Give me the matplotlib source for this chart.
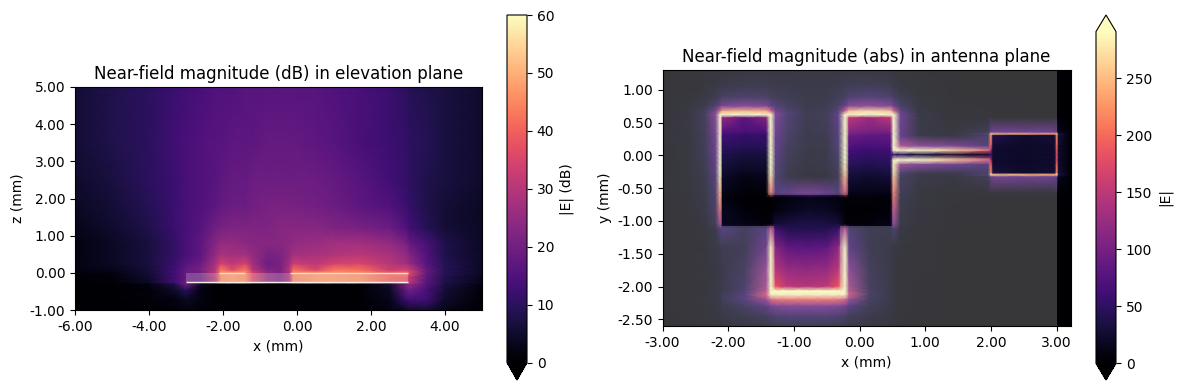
import matplotlib
matplotlib.use("Agg")
import matplotlib.pyplot as plt, numpy as np
from matplotlib.colors import Normalize
from matplotlib.patches import PathPatch, Rectangle
from matplotlib.path import Path

plt.rcParams["axes.unicode_minus"] = False

# elevation plane |E| in dB, rows bottom to top
xz_x = [-6, -5, -4, -3.3, -3, -2.6, -2.2, -2.05, -1.75, -1.4, -1.2, -0.8, -0.45, -0.2, -0.1, 0.5, 1, 1.7, 2.5, 2.95, 3.05, 3.5, 4, 5]
xz_z = [-1, -0.7, -0.45, -0.3, -0.26, -0.12, 0, 0.08, 0.25, 0.5, 0.8, 1.2, 1.8, 2.5, 3.5, 5]
xz_db = [
    [0,0,0,1,2,1,0,0,0,0,0,0,0,0,0,0,0,0,2,4,5,6,3,0],
    [0,0,1,2,4,2,0,0,0,0,0,0,0,0,0,0,0,0,3,12,14,13,5,0],
    [0,0,1,5,10,2,0,0,0,0,0,0,0,0,0,0,0,0,4,18,20,14,6,1],
    [0,0,2,8,20,4,0,0,0,0,0,0,0,0,0,0,0,0,5,22,25,16,7,2],
    [0,1,4,13,19,19,30,46,47,46,36,25,22,28,45,47,47,46,40,38,30,16,8,3],
    [0,1,5,13,18,18,30,46,47,46,36,25,22,28,45,47,47,46,40,38,30,17,8,3],
    [1,2,6,13,18,20,32,46,47,46,35,24,22,29,45,46,46,45,40,42,36,18,9,4],
    [2,3,6,13,18,21,30,44,36,43,30,22,21,30,42,35,43,42,33,34,32,18,9,4],
    [2,4,7,12,16,19,28,34,31,34,27,19,21,27,33,31,34,35,30,27,25,16,9,4],
    [2,4,7,11,14,17,25,28,27,27,25,21,22,25,27,28,29,30,28,25,22,15,8,4],
    [2,4,7,11,14,17,23,25,25,24,23,23,23,24,25,26,27,27,25,21,18,14,8,4],
    [3,5,8,12,14,16,20,21,22,22,22,22,23,23,23,23,22,21,19,15,13,9,6,4],
    [4,6,9,12,14,15,17,18,19,19,20,21,21,21,21,20,19,17,15,12,11,8,6,4],
    [5,7,10,12,14,15,16,17,18,18,19,19,19,19,19,19,18,16,13,11,10,8,7,5],
    [6,8,10,13,14,15,16,16,17,17,17,18,18,18,18,17,16,14,12,11,10,9,7,5],
    [6,8,10,12,13,14,15,15,15,16,16,16,16,16,16,16,15,14,12,10,9,8,7,5],
]
substrate_x = [-3, 3]
substrate_z = [-0.26, 0]
metal_top = [(-2.1, -1.4), (-0.2, 3)]

# antenna plane |E|, rows top to bottom
xy_x = [-3, -2.6, -2.35, -2.19, -2.12, -2.09, -1.75, -1.42, -1.35, -1.28, -1.1, -0.8, -0.5, -0.32, -0.22, -0.16, 0.15, 0.47, 0.52, 0.62, 0.9, 1.4, 1.96, 2, 2.03, 2.5, 2.97, 3, 3.03, 3.2]
xy_y = [1.3, 1.05, 0.88, 0.75, 0.67, 0.62, 0.57, 0.35, 0.32, 0.3, 0.14, 0.075, 0.01, -0.075, -0.14, -0.27, -0.3, -0.33, -0.57, -0.65, -0.85, -1.05, -1.12, -1.4, -1.75, -2.0, -2.07, -2.12, -2.2, -2.3, -2.45, -2.6]
xy_abs = [
    [2,3,4,5,6,6,8,9,9,10,10,10,10,10,10,10,9,7,5,5,3,2,2,2,2,2,2,2,1,0],
    [3,5,8,11,14,15,20,20,18,18,16,14,15,18,20,22,24,20,14,10,6,3,2,2,2,2,2,2,1,0],
    [4,6,12,20,28,32,38,36,30,26,22,16,16,24,30,42,48,40,30,20,8,3,3,3,3,3,2,2,1,0],
    [4,8,18,40,65,80,95,85,60,45,30,18,20,35,60,95,105,90,65,35,10,4,3,3,3,3,2,2,1,0],
    [5,10,28,80,180,230,240,230,170,70,40,20,22,50,160,250,270,250,170,55,12,5,4,3,3,3,2,2,1,0],
    [5,10,30,100,291,291,291,291,291,90,45,22,25,60,291,291,291,291,291,70,14,5,4,4,3,3,3,2,1,0],
    [5,10,28,90,291,120,80,110,291,80,42,20,24,60,291,150,125,150,291,70,14,5,4,4,3,3,3,2,1,0],
    [5,10,26,80,291,75,68,70,291,70,38,18,22,50,291,110,100,100,291,65,15,8,25,70,75,70,70,70,15,3],
    [5,10,26,78,291,68,60,60,291,68,36,18,20,50,291,100,92,92,291,62,16,9,50,270,250,240,230,270,40,5],
    [5,10,25,75,291,62,54,54,291,65,35,18,20,48,291,92,84,86,291,60,18,10,35,230,40,26,30,220,30,3],
    [5,9,24,70,291,50,44,46,291,60,30,16,18,45,291,74,66,72,291,130,100,85,50,200,28,22,24,200,25,3],
    [5,9,24,70,291,44,38,40,291,58,28,15,17,42,291,64,58,62,291,291,291,260,180,130,26,22,24,190,25,3],
    [5,9,23,65,291,40,32,35,291,55,26,14,16,38,291,58,52,56,60,50,38,32,26,50,25,22,24,180,25,3],
    [5,8,22,62,291,36,28,30,291,52,24,13,15,36,291,52,46,50,291,291,291,250,170,140,25,22,24,180,25,3],
    [5,8,21,60,291,32,24,26,291,50,22,12,14,32,280,46,40,45,280,110,90,75,50,200,26,22,24,195,25,3],
    [4,8,20,55,291,26,17,20,280,45,20,10,12,28,260,35,30,35,270,40,22,18,35,230,36,24,28,225,30,3],
    [4,8,20,52,285,24,14,18,280,44,20,10,12,28,250,32,28,32,260,35,18,14,50,280,260,250,240,280,40,5],
    [4,8,18,50,280,22,12,16,270,42,18,9,10,26,240,30,25,30,250,30,15,10,25,70,75,70,65,75,15,3],
    [4,7,15,42,240,14,4,6,200,50,60,80,65,45,170,14,12,12,200,25,10,5,4,5,6,6,5,8,4,1],
    [4,7,14,40,230,10,0,0,3,5,8,14,12,8,4,4,4,4,180,20,8,4,3,3,3,3,3,3,2,1],
    [3,6,12,34,180,18,6,0,0,8,15,22,20,12,3,0,0,6,140,16,7,3,3,3,2,2,2,2,1,0],
    [3,5,10,28,120,18,12,5,8,30,35,38,36,32,8,4,6,14,100,13,6,3,3,2,2,2,2,2,1,0],
    [3,5,8,18,45,50,30,50,140,60,42,42,42,55,140,45,20,20,40,10,5,3,2,2,2,2,2,2,1,0],
    [3,5,7,12,18,20,25,70,280,110,85,80,85,115,285,55,22,15,10,6,4,3,2,2,2,2,2,2,1,0],
    [3,5,7,10,13,16,32,110,291,145,125,120,125,150,291,100,28,14,9,5,4,3,2,2,2,2,2,2,1,0],
    [3,5,7,11,14,18,38,125,291,180,150,145,150,185,291,125,30,15,9,5,3,3,2,2,2,2,2,2,1,0],
    [3,5,7,11,14,19,42,140,291,291,291,291,291,291,291,135,32,15,9,5,3,3,2,2,2,2,2,2,1,0],
    [3,5,8,12,16,22,50,170,291,291,291,291,291,291,291,160,35,15,9,5,3,3,2,2,2,2,2,2,1,0],
    [3,5,8,12,18,24,50,110,170,185,190,190,190,185,165,105,30,15,9,5,3,3,2,2,2,2,2,2,1,0],
    [3,5,7,10,14,18,32,55,75,85,90,90,90,85,72,52,24,13,8,5,3,3,2,2,2,2,2,2,1,0],
    [3,4,6,8,10,13,20,28,36,40,44,44,44,40,34,26,16,10,6,4,3,3,2,2,2,2,2,2,1,0],
    [2,3,5,6,7,9,12,15,18,20,22,22,22,19,17,14,10,7,5,3,2,2,2,2,2,2,2,2,1,0],
]
antenna_outline = [(-2.1, 0.6), (-1.4, 0.6), (-1.4, -0.61), (-0.18, -0.61), (-0.18, 0.6), (0.49, 0.6), (0.49, 0.06),
                   (1.99, 0.06), (1.99, 0.32), (3, 0.32), (3, -0.3), (1.99, -0.3), (1.99, -0.04), (0.49, -0.04),
                   (0.49, -1.08), (-0.3, -1.08), (-0.3, -2.08), (-1.3, -2.08), (-1.3, -1.08), (-2.1, -1.08)]

W, H = 1179, 390

def box(l, t, r, b):
    # pixel box to figure fraction
    return [l / W, 1 - b / H, (r - l) / W, (b - t) / H]

fig = plt.figure(figsize=(W / 100, H / 100), dpi=100)
ax1 = fig.add_axes(box(75, 87, 482, 310))
ax2 = fig.add_axes(box(662.5, 70, 1070.5, 326))
cax1 = fig.add_axes(box(507, 15, 527, 380))
cax2 = fig.add_axes(box(1096, 15, 1116, 380))

cmap = plt.get_cmap("magma").copy()

# black behind the mesh so the gouraud seams do not show white
ax1.set_facecolor("black")
ax2.set_facecolor("black")

m1 = ax1.pcolormesh(xz_x, xz_z, np.array(xz_db), shading="gouraud", cmap=cmap, norm=Normalize(0, 60))
ax1.add_patch(Rectangle((substrate_x[0], substrate_z[0]), substrate_x[1] - substrate_x[0], substrate_z[1] - substrate_z[0],
                        facecolor="#dcdcdc", edgecolor="none", alpha=0.25))
ax1.plot(substrate_x, [substrate_z[0]] * 2, color="#f4ece8", lw=1.0, solid_capstyle="butt")
for a, b in metal_top:
    ax1.plot([a, b], [substrate_z[1]] * 2, color="#f4dcd0", lw=1.0, solid_capstyle="butt")
ax1.set_xlim(-6, 5)
ax1.set_ylim(-1, 5)
ax1.set_xticks([-6, -4, -2, 0, 2, 4])
ax1.set_yticks([-1, 0, 1, 2, 3, 4, 5])
ax1.xaxis.set_major_formatter("{x:.2f}")
ax1.yaxis.set_major_formatter("{x:.2f}")
ax1.set_xlabel("x (mm)")
ax1.set_ylabel("z (mm)")
ax1.set_title("Near-field magnitude (dB) in elevation plane", fontsize=12)

m2 = ax2.pcolormesh(xy_x, xy_y, np.array(xy_abs), shading="gouraud", cmap=cmap, norm=Normalize(0, 291))
# substrate shown everywhere except over the metal
x_end, y_top, y_bot = 3.0, xy_y[0], xy_y[-1]
outer = [(-3, y_bot), (x_end, y_bot), (x_end, y_top), (-3, y_top), (-3, y_bot)]
hole = antenna_outline + [antenna_outline[0]]
verts = outer + hole
codes = [Path.MOVETO] + [Path.LINETO] * (len(outer) - 1) + [Path.MOVETO] + [Path.LINETO] * (len(hole) - 1)
ax2.add_patch(PathPatch(Path(verts, codes), facecolor="#dcdcdc", edgecolor="none", alpha=0.25))
ax2.set_xlim(-3, 3.21)
ax2.set_ylim(-2.6, 1.3)
ax2.set_xticks([-3, -2, -1, 0, 1, 2, 3])
ax2.set_yticks([1, 0.5, 0, -0.5, -1, -1.5, -2, -2.5])
ax2.xaxis.set_major_formatter("{x:.2f}")
ax2.yaxis.set_major_formatter("{x:.2f}")
ax2.set_xlabel("x (mm)")
ax2.set_ylabel("y (mm)")
ax2.set_title("Near-field magnitude (abs) in antenna plane", fontsize=12)

cb1 = fig.colorbar(m1, cax=cax1, extend="min")
cb1.set_label("|E| (dB)")
cb1.set_ticks([0, 10, 20, 30, 40, 50, 60])
cb2 = fig.colorbar(m2, cax=cax2, extend="both")
cb2.set_label("|E|")
cb2.set_ticks([0, 50, 100, 150, 200, 250])

fig.savefig("out.png", dpi=100)
